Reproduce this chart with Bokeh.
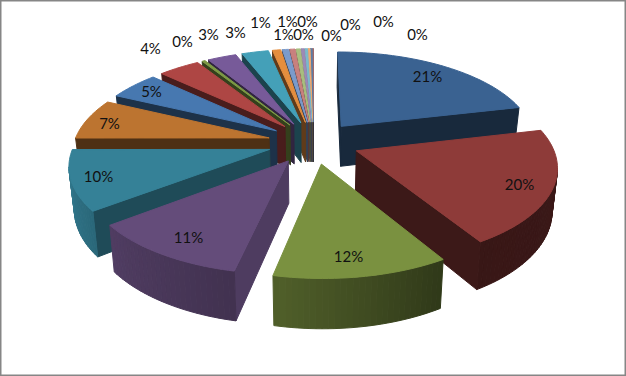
import numpy as np
from bokeh.plotting import figure
from bokeh.models import Range1d, ColumnDataSource
from bokeh.core.properties import value
from bokeh.embed import file_html
from bokeh.resources import INLINE

# data
values = [21.3, 20.0, 12.0, 11.2, 10.4, 7.1, 4.9, 4.0, 0.3, 2.8, 2.6, 0.8, 0.6, 0.5,
          0.4, 0.3, 0.25, 0.2, 0.15, 0.1]
labels = ["21%", "20%", "12%", "11%", "10%", "7%", "5%", "4%", "0%", "3%", "3%", "1%", "1%", "1%",
          "0%", "0%", "0%", "0%", "0%", "0%"]
colors = ["#3A6291", "#8E3B39", "#7A9140", "#644C7A", "#358197", "#BC7430", "#4778B0", "#AE4644",
          "#7D9A45", "#775A99", "#44A0B8", "#E58E3E", "#7B9BCB", "#C8807E", "#A9BE7F", "#9C8AB6",
          "#7BBACB", "#EFA972", "#5A7EA8", "#A87070"]
# label anchors, page pixels (Excel's best-fit layout)
label_x = [427, 519, 348, 188, 98, 109, 151, 150, 182, 208, 235, 260, 283, 287, 303, 307, 331, 350, 383, 417]
label_y = [75, 183, 255, 236, 175, 122, 90, 47, 40, 33, 31, 21, 33, 20, 33, 20, 34, 23, 20, 33]

# projection of the exploded 3D pie
CX, CY = 313.0, 142.0
BX, AY, DEPTH = 195.0, 90.0, 41.0
PERSP, LEAN, EXPL = 0.15, 0.022, 0.235


def proj(X, Y, z):
    s = 1 / (1 - PERSP * Y)
    return CX + BX * X * s * (1 - LEAN * z), CY + AY * Y * s + DEPTH * z * s


def shade(c, f):
    r, g, b = [int(c[i:i + 2], 16) for i in (1, 3, 5)]
    return "#%02X%02X%02X" % tuple(min(255, int(v * f)) for v in (r, g, b))


def outer_f(t):
    return float(np.interp(t, [0, 110, 150, 190, 230, 266, 360], [.42, .41, .40, .65, .80, .95, .95]))


def radial_f(t):
    return float(np.interp(t, [76, 147, 190, 230, 266, 360], [.42, .41, .80, .60, .42, .42]))


total = sum(values)
cum = np.cumsum([0] + values) / total * 360
slices = []
for i in range(len(values)):
    t0, t1 = cum[i], cum[i + 1]
    mid = np.radians((t0 + t1) / 2)
    ax, ay = EXPL * np.sin(mid), -EXPL * np.cos(mid)
    th = np.linspace(t0, t1, max(2, int((t1 - t0) / 1.5) + 2))
    slices.append((ay, i, ax, ay, th))
slices.sort(key=lambda a: a[0])

xs, ys, fc = [], [], []


def add(pts, col):
    xs.append([float(p[0]) for p in pts])
    ys.append([float(p[1]) for p in pts])
    fc.append(col)


for _, i, ax, ay, th in slices:
    c = colors[i]
    pts = [(ax, ay)] + [(ax + np.sin(np.radians(t)), ay - np.cos(np.radians(t))) for t in th] + [(ax, ay)]
    angs = [None] + list(th) + [None]
    for j in range(len(pts) - 1):
        a, b = pts[j], pts[j + 1]
        pa0, pb0 = proj(a[0], a[1], 0), proj(b[0], b[1], 0)
        if pb0[0] - pa0[0] >= 0:
            continue
        if j == 0:
            f = radial_f(th[0])
        elif j == len(pts) - 2:
            f = radial_f(th[-1])
        else:
            f = outer_f((angs[j] + angs[j + 1]) / 2)
        add([pa0, pb0, proj(b[0], b[1], 1), proj(a[0], a[1], 1)], shade(c, f))
    add([proj(p[0], p[1], 0) for p in pts[:-1]], c)

p = figure(width=626, height=376, x_range=Range1d(0, 626), y_range=Range1d(376, 0),
           output_backend="svg", toolbar_location=None, min_border=0,
           background_fill_color="white", outline_line_color="#868686", outline_line_width=2)
p.axis.visible = False
p.grid.visible = False
src = ColumnDataSource(dict(xs=xs, ys=ys, fc=fc))
p.patches("xs", "ys", source=src, fill_color="fc", line_color="fc", line_width=1.0)
p.text(x=label_x, y=label_y, text=labels, text_font=value("Lato"), text_font_size="15px",
       text_color="#111111", text_align="center", text_baseline="middle")

open("out.html", "w").write(file_html(p, INLINE))
